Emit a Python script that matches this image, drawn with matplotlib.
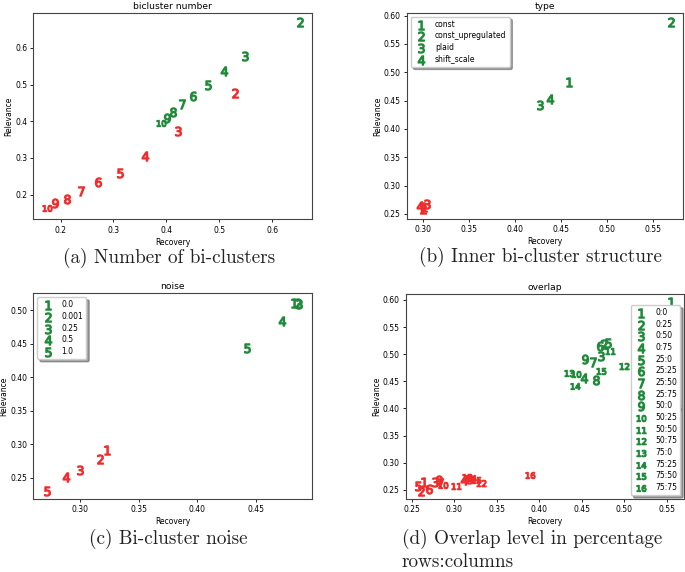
import numpy as np
import matplotlib
matplotlib.use("Agg")
import matplotlib.pyplot as plt

plt.rcParams['font.size'] = 5.5
plt.rcParams['axes.titlesize'] = 6.6
plt.rcParams['axes.edgecolor'] = '#444444'

GREEN = '#1f8a3a'
RED = '#f02c2c'

# (a) bicluster number: labels 2..10
a_labels = [2, 3, 4, 5, 6, 7, 8, 9, 10]
a_green_rec = [0.653, 0.549, 0.509, 0.479, 0.451, 0.430, 0.413, 0.401, 0.389]
a_green_rel = [0.671, 0.578, 0.538, 0.498, 0.470, 0.447, 0.424, 0.409, 0.396]
a_red_rec = [0.529, 0.421, 0.359, 0.313, 0.270, 0.238, 0.212, 0.189, 0.175]
a_red_rel = [0.476, 0.372, 0.305, 0.260, 0.233, 0.209, 0.188, 0.176, 0.164]

# (b) type
b_labels = [1, 2, 3, 4]
b_names = ['const', 'const_upregulated', 'plaid', 'shift_scale']
b_green_rec = [0.458, 0.569, 0.427, 0.438]
b_green_rel = [0.482, 0.589, 0.442, 0.453]
b_red_rec = [0.301, 0.300, 0.304, 0.296]
b_red_rel = [0.263, 0.258, 0.268, 0.264]

# (c) noise
c_labels = [1, 2, 3, 4, 5]
c_names = ['0.0', '0.001', '0.25', '0.5', '1.0']
c_green_rec = [0.482, 0.4855, 0.4865, 0.472, 0.442]
c_green_rel = [0.511, 0.510, 0.509, 0.484, 0.444]
c_red_rec = [0.3227, 0.317, 0.300, 0.2875, 0.2717]
c_red_rel = [0.2915, 0.278, 0.262, 0.2505, 0.230]

# (d) overlap
d_labels = list(range(1, 17))
d_names = ['0:0', '0:25', '0:50', '0:75', '25:0', '25:25', '25:50', '25:75',
           '50:0', '50:25', '50:50', '50:75', '75:0', '75:25', '75:50', '75:75']
d_green_rec = [0.555, 0.476, 0.472, 0.4527, 0.4806, 0.4715, 0.463, 0.466,
               0.454, 0.4425, 0.483, 0.500, 0.4347, 0.442, 0.4727, 0.560]
d_green_rel = [0.596, 0.519, 0.497, 0.4567, 0.521, 0.5157, 0.486, 0.4525,
               0.491, 0.4635, 0.505, 0.479, 0.4647, 0.442, 0.469, 0.400]
d_red_rec = [0.2645, 0.2606, 0.2774, 0.3115, 0.2578, 0.2707, 0.2833, 0.317,
             0.2825, 0.2865, 0.302, 0.332, 0.3154, 0.3194, 0.3253, 0.389]
d_red_rel = [0.2636, 0.2474, 0.2648, 0.268, 0.2566, 0.2507, 0.2618, 0.2697,
             0.2679, 0.2581, 0.2574, 0.2617, 0.2728, 0.2716, 0.2686, 0.2777]


def draw_panel(ax, title, labels, g_rec, g_rel, r_rec, r_rel, names=None, loc=None):
    for i, lab in enumerate(labels):
        mk = '$%d$' % lab
        ax.scatter(r_rec[i], r_rel[i], marker=mk, s=44, color=RED, linewidths=0.9)
        ax.scatter(g_rec[i], g_rel[i], marker=mk, s=44, color=GREEN, linewidths=0.9,
                   label=names[i] if names else None)
    ax.set_title(title, pad=3)
    ax.set_xlabel('Recovery', labelpad=2)
    ax.set_ylabel('Relevance', labelpad=1)
    ax.tick_params(length=2.5, pad=2, width=0.6)
    for sp in ax.spines.values():
        sp.set_linewidth(0.8)
    if names:
        ax.legend(loc=loc, shadow=True, fontsize=5.5, labelspacing=0.35,
                  handletextpad=0.8, borderpad=0.4, framealpha=1)


fig = plt.figure(figsize=(6.85, 5.72), dpi=100)

ax_a = fig.add_axes([0.0489, 0.6163, 0.4066, 0.3610])
draw_panel(ax_a, 'bicluster number', a_labels, a_green_rec, a_green_rel, a_red_rec, a_red_rel)
ax_a.set_xlim(0.149, 0.675)
ax_a.set_ylim(0.132, 0.695)
ax_a.set_xticks([0.2, 0.3, 0.4, 0.5, 0.6])
ax_a.set_yticks([0.2, 0.3, 0.4, 0.5, 0.6])

ax_b = fig.add_axes([0.5937, 0.6171, 0.4041, 0.3607])
draw_panel(ax_b, 'type', b_labels, b_green_rec, b_green_rel, b_red_rec, b_red_rel,
           names=b_names, loc='upper left')
ax_b.set_xlim(0.282, 0.583)
ax_b.set_ylim(0.241, 0.605)
ax_b.set_xticks([0.30, 0.35, 0.40, 0.45, 0.50, 0.55])
ax_b.set_yticks([0.25, 0.30, 0.35, 0.40, 0.45, 0.50, 0.55, 0.60])

ax_c = fig.add_axes([0.0486, 0.1276, 0.4069, 0.3596])
draw_panel(ax_c, 'noise', c_labels, c_green_rec, c_green_rel, c_red_rec, c_red_rel,
           names=c_names, loc='upper left')
ax_c.set_xlim(0.260, 0.4977)
ax_c.set_ylim(0.218, 0.525)
ax_c.set_xticks([0.30, 0.35, 0.40, 0.45])
ax_c.set_yticks([0.25, 0.30, 0.35, 0.40, 0.45, 0.50])

ax_d = fig.add_axes([0.5923, 0.1276, 0.4063, 0.3584])
draw_panel(ax_d, 'overlap', d_labels, d_green_rec, d_green_rel, d_red_rec, d_red_rel,
           names=d_names, loc='lower right')
ax_d.set_xlim(0.243, 0.570)
ax_d.set_ylim(0.233, 0.611)
ax_d.set_xticks([0.25, 0.30, 0.35, 0.40, 0.45, 0.50, 0.55])
ax_d.set_yticks([0.25, 0.30, 0.35, 0.40, 0.45, 0.50, 0.55, 0.60])

cap = dict(fontfamily='cmr10', fontsize=13.8, color='#222222')
fig.text(169 / 685, 1 - 258 / 572, '(a) Number of bi-clusters', ha='center', va='center', **cap)
fig.text(540 / 685, 1 - 257 / 572, '(b) Inner bi-cluster structure', ha='center', va='center', **cap)
fig.text(168 / 685, 1 - 539 / 572, '(c) Bi-cluster noise', ha='center', va='center', **cap)
fig.text(402 / 685, 1 - 539 / 572, '(d) Overlap level in percentage', ha='left', va='center', **cap)
fig.text(402 / 685, 1 - 562 / 572, 'rows:columns', ha='left', va='center', **cap)

fig.savefig('out.png', dpi=100)
